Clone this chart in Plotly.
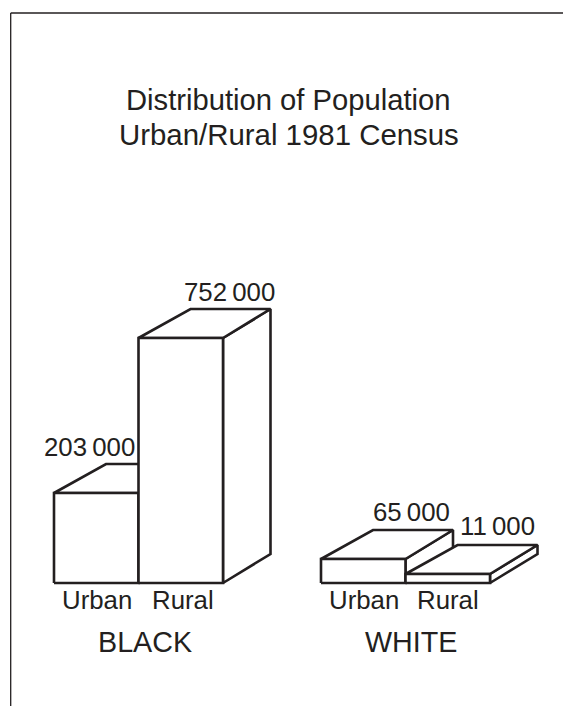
import plotly.graph_objects as go

INK = "#231f20"
FONT = "Liberation Sans"

title_lines = ["Distribution of Population", "Urban/Rural 1981 Census"]
groups = ["BLACK", "WHITE"]
categories = ["Urban", "Rural"]
black_population = [203000, 752000]
white_population = [65000, 11000]
# drawn bar heights (the source art is not to linear scale)
black_heights = [90, 245]
white_heights = [24, 9]

# layout constants, in axis units
GROUP_LEFT = [54, 321]
BAR_W = 84.5
DEPTH_Y = 29
DEPTH_LEFT = 52
DEPTH_RIGHT = 47.5
CAT_X = [[97, 182.5], [364, 448]]
VALUE_X = [[89, 229], [411, 497]]
VALUE_Y = [[136, 291], [71, 57]]
GROUP_X = [144.5, 410.5]

fig = go.Figure()


def fmt(v):
    return f"{v:,}".replace(",", "\u2009")


def face(xs, ys):
    fig.add_trace(go.Scatter(
        x=xs + xs[:1], y=ys + ys[:1], mode="lines", fill="toself",
        fillcolor="white", line=dict(color=INK, width=2.6),
        hoverinfo="skip", showlegend=False))


def text(x, y, s, size):
    fig.add_annotation(x=x, y=y, xref="x", yref="y", text=s, showarrow=False,
                       font=dict(family=FONT, size=size, color=INK),
                       xanchor="center", yanchor="middle")


for g, (name, heights, pops) in enumerate(zip(groups,
                                              [black_heights, white_heights],
                                              [black_population, white_population])):
    for i, cat in enumerate(categories):
        x0 = GROUP_LEFT[g] + i * BAR_W
        x1 = x0 + BAR_W
        h = heights[i]
        # side, top, front
        face([x1, x1 + DEPTH_RIGHT, x1 + DEPTH_RIGHT, x1], [0, DEPTH_Y, h + DEPTH_Y, h])
        face([x0, x0 + DEPTH_LEFT, x1 + DEPTH_RIGHT, x1], [h, h + DEPTH_Y, h + DEPTH_Y, h])
        face([x0, x1, x1, x0], [0, 0, h, h])
        text(CAT_X[g][i], -17, cat, 25.8)
        text(VALUE_X[g][i], VALUE_Y[g][i], fmt(pops[i]), 25.8)
    text(GROUP_X[g], -59, name, 28.7)

text(288.5, 483, title_lines[0], 29.2)
text(288.5, 449, title_lines[1], 29.4)

# frame
fig.add_shape(type="line", xref="x", yref="y", x0=10.7, x1=563, y0=570, y1=570,
              line=dict(color=INK, width=1.3))
fig.add_shape(type="line", xref="x", yref="y", x0=10.7, x1=10.7, y0=570, y1=-123,
              line=dict(color=INK, width=1.3))

fig.update_layout(
    width=563, height=706, margin=dict(l=0, r=0, t=0, b=0),
    paper_bgcolor="white", plot_bgcolor="white", showlegend=False,
    xaxis=dict(range=[0, 563], visible=False, fixedrange=True),
    yaxis=dict(range=[-123, 583], visible=False, fixedrange=True),
)
fig.write_html("out.html", config={"displayModeBar": False},
               post_script="document.body.style.margin='0';document.documentElement.style.overflow='hidden';")
